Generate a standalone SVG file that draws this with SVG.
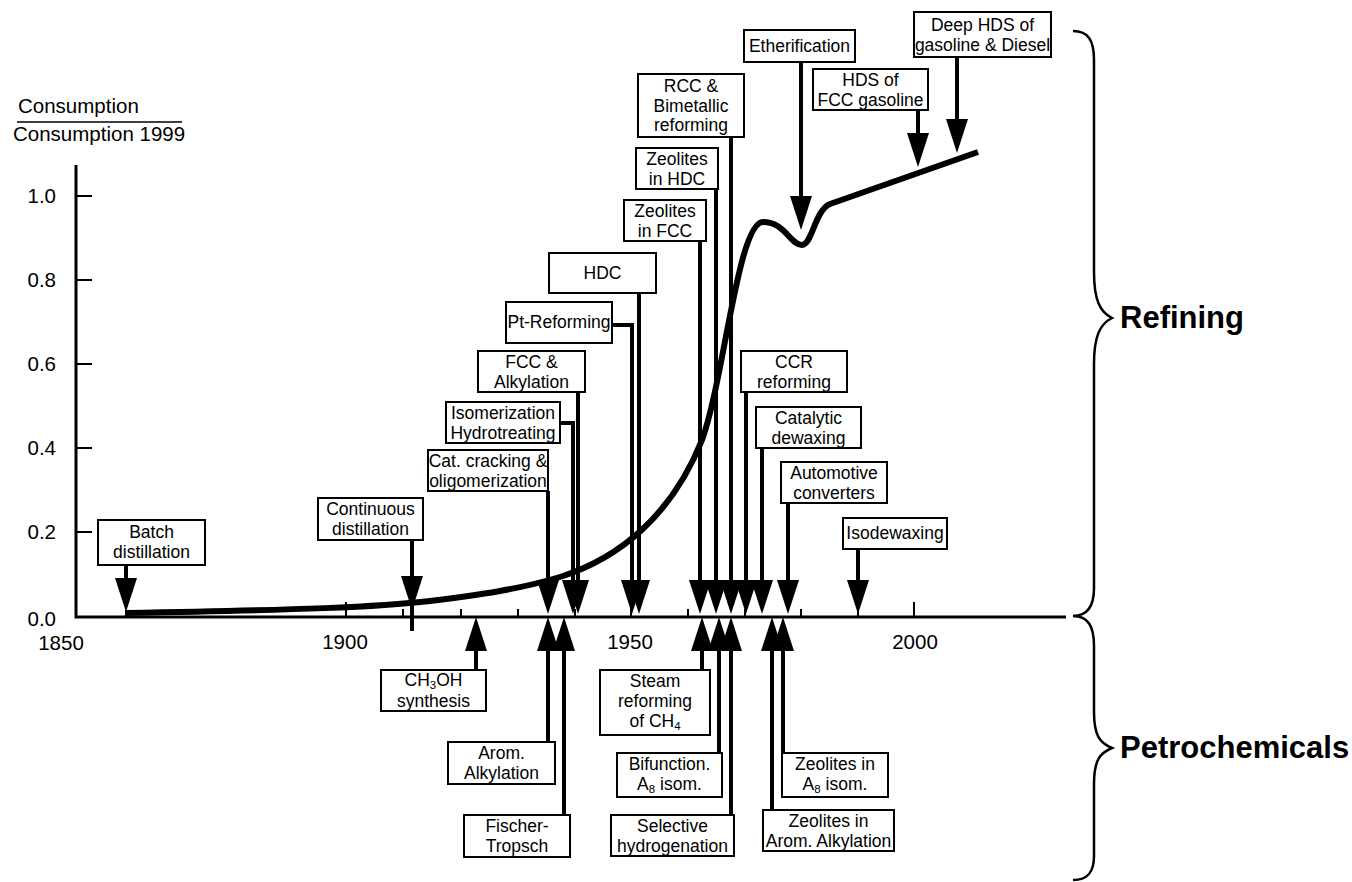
<svg xmlns="http://www.w3.org/2000/svg" width="1352" height="882" viewBox="0 0 1352 882">
<style>
text{font-family:"Liberation Sans",Arial,Helvetica,sans-serif;fill:#000}
.ax{font-size:20.5px}
.lb{font-size:17.5px;text-anchor:middle}
.big{font-size:31px;font-weight:bold}
.box{fill:#fff;stroke:#000;stroke-width:2}
.ln{fill:none;stroke:#000;stroke-width:4}
.dn{fill:none;stroke:#000;stroke-width:4;marker-end:url(#ah)}
.axis{fill:none;stroke:#000;stroke-width:3}
.tk{stroke:#000;stroke-width:2}
.br{fill:none;stroke:#000;stroke-width:2.5}
.sub{font-size:11.5px}
</style>
<defs>
<marker id="ah" markerUnits="userSpaceOnUse" markerWidth="34" markerHeight="22" refX="0" refY="11" orient="auto" viewBox="0 0 34 22">
<path d="M0,0 L34,11 L0,22 z" fill="#000"/>
</marker>
</defs>
<rect width="1352" height="882" fill="#fff"/>

<g id="axes">
<text class="ax" x="18" y="113">Consumption</text>
<line x1="17" y1="122" x2="182" y2="122" stroke="#000" stroke-width="1.5"/>
<text class="ax" x="13" y="141">Consumption 1999</text>
<path class="axis" d="M76,165 V617 H1066"/>
<g class="tk">
<line x1="76" y1="196" x2="92" y2="196"/>
<line x1="76" y1="280" x2="92" y2="280"/>
<line x1="76" y1="364" x2="92" y2="364"/>
<line x1="76" y1="448" x2="92" y2="448"/>
<line x1="76" y1="532" x2="92" y2="532"/>
<line x1="346" y1="602" x2="346" y2="617"/>
<line x1="403" y1="609" x2="403" y2="617"/>
<line x1="461" y1="609" x2="461" y2="617"/>
<line x1="518" y1="609" x2="518" y2="617"/>
<line x1="575" y1="609" x2="575" y2="617"/>
<line x1="631" y1="602" x2="631" y2="617"/>
<line x1="688" y1="609" x2="688" y2="617"/>
<line x1="745" y1="609" x2="745" y2="617"/>
<line x1="801" y1="609" x2="801" y2="617"/>
<line x1="858" y1="609" x2="858" y2="617"/>
<line x1="914" y1="602" x2="914" y2="617"/>
</g>
<g class="ax" text-anchor="end">
<text x="56" y="203">1.0</text>
<text x="56" y="287">0.8</text>
<text x="56" y="371">0.6</text>
<text x="56" y="455">0.4</text>
<text x="56" y="539">0.2</text>
<text x="56" y="626">0.0</text>
</g>
<g class="ax" text-anchor="middle">
<text x="61" y="650">1850</text>
<text x="345" y="649">1900</text>
<text x="630" y="649">1950</text>
<text x="915" y="649">2000</text>
</g>
</g>

<g id="curve">
<path d="M125,613 C300,610 380,607 430,601 C480,595 520,589 560,577 C620,558 672,515 702,440 C724,380 738,222 763,222 C785,222 790,245 802,245 C812,245 815,210 830,204 L978,152" fill="none" stroke="#000" stroke-width="6" stroke-linejoin="round"/>
</g>

<g id="connectors">
<line class="dn" x1="126" y1="565" x2="126" y2="578"/>
<line class="dn" x1="412" y1="540" x2="412" y2="576"/>
<line class="ln" x1="412" y1="576" x2="412" y2="631"/>
<line class="dn" x1="548" y1="491" x2="548" y2="580"/>
<path class="dn" d="M560,423 H573 V580"/>
<line class="dn" x1="578" y1="392" x2="578" y2="580"/>
<path class="dn" d="M612,325 H632 V580"/>
<line class="dn" x1="639" y1="293" x2="639" y2="580"/>
<line class="dn" x1="700" y1="241" x2="700" y2="580"/>
<line class="dn" x1="716" y1="189" x2="716" y2="580"/>
<line class="dn" x1="731" y1="137" x2="731" y2="580"/>
<line class="dn" x1="746" y1="392" x2="746" y2="580"/>
<line class="dn" x1="762" y1="448" x2="762" y2="580"/>
<line class="dn" x1="788" y1="503" x2="788" y2="580"/>
<line class="dn" x1="858" y1="549" x2="858" y2="580"/>
<line class="dn" x1="801" y1="62" x2="801" y2="196"/>
<line class="dn" x1="918" y1="110" x2="918" y2="133"/>
<line class="dn" x1="957" y1="57" x2="957" y2="119"/>
<line class="dn" x1="476" y1="670" x2="476" y2="651"/>
<line class="dn" x1="548" y1="742" x2="548" y2="651"/>
<line class="dn" x1="564" y1="815" x2="564" y2="651"/>
<line class="dn" x1="702" y1="670" x2="702" y2="651"/>
<line class="dn" x1="719" y1="753" x2="719" y2="651"/>
<line class="dn" x1="731" y1="815" x2="731" y2="651"/>
<line class="dn" x1="772" y1="810" x2="772" y2="651"/>
<line class="dn" x1="783" y1="753" x2="783" y2="651"/>
</g>

<g id="n-batch"><rect class="box" x="98" y="520" width="107" height="45"/><text class="lb" x="151.5" y="538">Batch</text><text class="lb" x="151.5" y="558">distillation</text></g>
<g id="n-continuous"><rect class="box" x="318" y="498" width="105" height="42"/><text class="lb" x="370.5" y="515">Continuous</text><text class="lb" x="370.5" y="535">distillation</text></g>
<g id="n-catcrack"><rect class="box" x="428" y="450" width="120" height="41"/><text class="lb" x="488" y="467">Cat. cracking &amp;</text><text class="lb" x="488" y="487">oligomerization</text></g>
<g id="n-isom"><rect class="box" x="446" y="402" width="114" height="41"/><text class="lb" x="503" y="419">Isomerization</text><text class="lb" x="503" y="439">Hydrotreating</text></g>
<g id="n-fcc"><rect class="box" x="478" y="351" width="107" height="41"/><text class="lb" x="531.5" y="368">FCC &amp;</text><text class="lb" x="531.5" y="388">Alkylation</text></g>
<g id="n-ptref"><rect class="box" x="506" y="302" width="106" height="41"/><text class="lb" x="559" y="328">Pt-Reforming</text></g>
<g id="n-hdc"><rect class="box" x="549" y="253" width="107" height="40"/><text class="lb" x="602.5" y="279">HDC</text></g>
<g id="n-zeofcc"><rect class="box" x="624" y="200" width="82" height="41"/><text class="lb" x="665" y="217">Zeolites</text><text class="lb" x="665" y="237">in FCC</text></g>
<g id="n-zeohdc"><rect class="box" x="636" y="148" width="82" height="41"/><text class="lb" x="677" y="165">Zeolites</text><text class="lb" x="677" y="185">in HDC</text></g>
<g id="n-rcc"><rect class="box" x="638" y="74" width="106" height="63"/><text class="lb" x="691" y="92">RCC &amp;</text><text class="lb" x="691" y="111.5">Bimetallic</text><text class="lb" x="691" y="131">reforming</text></g>
<g id="n-ether"><rect class="box" x="744" y="30" width="111" height="32"/><text class="lb" x="799.5" y="52">Etherification</text></g>
<g id="n-hdsfcc"><rect class="box" x="813" y="69" width="115" height="41"/><text class="lb" x="870.5" y="86">HDS of</text><text class="lb" x="870.5" y="106">FCC gasoline</text></g>
<g id="n-deephds"><rect class="box" x="914" y="12" width="137" height="45"/><text class="lb" x="982.5" y="31">Deep HDS of</text><text class="lb" x="982.5" y="51">gasoline &amp; Diesel</text></g>
<g id="n-ccr"><rect class="box" x="741" y="351" width="106" height="41"/><text class="lb" x="794" y="368">CCR</text><text class="lb" x="794" y="388">reforming</text></g>
<g id="n-catdewax"><rect class="box" x="756" y="407" width="105" height="41"/><text class="lb" x="808.5" y="424">Catalytic</text><text class="lb" x="808.5" y="444">dewaxing</text></g>
<g id="n-auto"><rect class="box" x="781" y="462" width="106" height="41"/><text class="lb" x="834" y="479">Automotive</text><text class="lb" x="834" y="499">converters</text></g>
<g id="n-isodewax"><rect class="box" x="843" y="518" width="104" height="31"/><text class="lb" x="895" y="539">Isodewaxing</text></g>

<g id="n-ch3oh"><rect class="box" x="381" y="670" width="105" height="41"/><text class="lb" x="433.5" y="686">CH<tspan class="sub" dy="3">3</tspan><tspan dy="-3">OH</tspan></text><text class="lb" x="433.5" y="707">synthesis</text></g>
<g id="n-aromalk"><rect class="box" x="448" y="742" width="107" height="42"/><text class="lb" x="501.5" y="759">Arom.</text><text class="lb" x="501.5" y="779">Alkylation</text></g>
<g id="n-fischer"><rect class="box" x="464" y="815" width="106" height="42"/><text class="lb" x="517" y="832">Fischer-</text><text class="lb" x="517" y="852">Tropsch</text></g>
<g id="n-steam"><rect class="box" x="600" y="670" width="110" height="65"/><text class="lb" x="655" y="687">Steam</text><text class="lb" x="655" y="707">reforming</text><text class="lb" x="655" y="727">of CH<tspan class="sub" dy="3">4</tspan></text></g>
<g id="n-bifunc"><rect class="box" x="617" y="753" width="105" height="44"/><text class="lb" x="669.5" y="770">Bifunction.</text><text class="lb" x="669.5" y="790">A<tspan class="sub" dy="3">8</tspan><tspan dy="-3"> isom.</tspan></text></g>
<g id="n-selective"><rect class="box" x="611" y="815" width="123" height="41"/><text class="lb" x="672.5" y="832">Selective</text><text class="lb" x="672.5" y="852">hydrogenation</text></g>
<g id="n-zeoarom"><rect class="box" x="763" y="810" width="131" height="41"/><text class="lb" x="828.5" y="827">Zeolites in</text><text class="lb" x="828.5" y="847">Arom. Alkylation</text></g>
<g id="n-zeoa8"><rect class="box" x="782" y="753" width="106" height="44"/><text class="lb" x="835" y="770">Zeolites in</text><text class="lb" x="835" y="790">A<tspan class="sub" dy="3">8</tspan><tspan dy="-3"> isom.</tspan></text></g>

<g id="refining">
<path class="br" d="M1073,31 C1088,31 1094,40 1094,60 L1094,272 C1094,300 1100,312 1112,318 C1100,324 1094,336 1094,364 L1094,588 C1094,606 1088,616 1073,616"/>
<text class="big" x="1120" y="328">Refining</text>
</g>
<g id="petrochemicals">
<path class="br" d="M1073,616 C1088,616 1094,626 1094,646 L1094,712 C1094,736 1100,743 1112,748 C1100,753 1094,760 1094,784 L1094,856 C1094,872 1088,880 1073,880"/>
<text class="big" x="1120" y="758">Petrochemicals</text>
</g>
</svg>
